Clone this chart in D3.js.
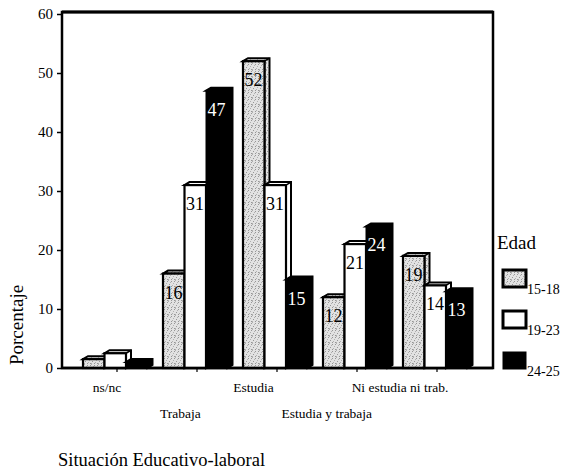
<!DOCTYPE html>
<html>
<head>
<meta charset="utf-8">
<script src="https://cdn.jsdelivr.net/npm/d3@7"></script>
<style>
  html, body { margin: 0; padding: 0; background: #fff; }
  svg { display: block; }
  text { font-family: "Liberation Serif", "Times New Roman", serif; }
</style>
</head>
<body>
<svg id="chart" width="566" height="469"></svg>
<script>
// Situación educativo-laboral por grupo de edad (%)
const categories = ["ns/nc", "Trabaja", "Estudia", "Estudia y trabaja", "Ni estudia ni trab."];
const ageGroups = ["15-18", "19-23", "24-25"];
const values1518 = [1.5, 16, 52, 12, 19];
const values1923 = [2.5, 31, 31, 21, 14];
const values2425 = [1, 47, 15, 24, 13];
const yTicks = [0, 10, 20, 30, 40, 50, 60];
const showLabel = [false, true, true, true, true];

const seriesValues = [values1518, values1923, values2425];

const svg = d3.select("#chart");

// stippled grey fill for the 15-18 group
const defs = svg.append("defs");
const pat = defs.append("pattern")
  .attr("id", "stipple").attr("patternUnits", "userSpaceOnUse")
  .attr("width", 7).attr("height", 7);
pat.append("rect").attr("width", 7).attr("height", 7).attr("fill", "#e2e2e2");
[[0,0],[3,1],[5,3],[1,4],[4,5],[6,6],[2,2],[6,1],[0,6],[3,6]].forEach(([px, py], k) =>
  pat.append("rect").attr("x", px).attr("y", py).attr("width", 1).attr("height", 1)
    .attr("fill", k % 2 ? "#969696" : "#b0b0b0"));

const fills = ["url(#stipple)", "#fff", "#000"];
const textFills = ["#000", "#000", "#fff"];

const plot = { left: 62, top: 12, right: 493, bottom: 368 };

const y = d3.scaleLinear().domain([0, 60]).range([368, 14]);
const xGroup = d3.scaleBand().domain(categories).range([83, 483]).padding(0);
const xSub = d3.scaleBand().domain(ageGroups).range([0, 64.5]).padding(0);
const xLabel = d3.scalePoint().domain(categories).range([107, 400]);

// frame
svg.append("rect")
  .attr("x", plot.left).attr("y", plot.top)
  .attr("width", plot.right - plot.left).attr("height", plot.bottom - plot.top)
  .attr("fill", "none").attr("stroke", "#000").attr("stroke-width", 2.5);
svg.append("line")
  .attr("x1", plot.left).attr("x2", plot.right).attr("y1", plot.top).attr("y2", plot.top)
  .attr("stroke", "#000").attr("stroke-width", 3);

// y axis
const yAxis = svg.append("g")
  .attr("transform", `translate(${plot.left},0)`)
  .call(d3.axisLeft(y).tickValues(yTicks).tickSize(5).tickPadding(4).tickFormat(d3.format("d")));
yAxis.select(".domain").remove();
yAxis.selectAll("line").attr("stroke", "#000").attr("stroke-width", 1.5);
yAxis.selectAll("text").style("font-size", "15px").style("fill", "#000");

// small ticks under the category axis
svg.append("g").selectAll("line")
  .data(categories).join("line")
  .attr("x1", d => xGroup(d) + 34).attr("x2", d => xGroup(d) + 34)
  .attr("y1", plot.bottom).attr("y2", plot.bottom + 4)
  .attr("stroke", "#000").attr("stroke-width", 1.2);

// 3-D style bars
const dx = 5, dy = 3;
const barW = xSub.bandwidth();
const bars = svg.append("g");
categories.forEach((cat, ci) => {
  ageGroups.forEach((age, si) => {
    const v = seriesValues[si][ci];
    const x0 = xGroup(cat) + xSub(age);
    const yTop = y(v), yBase = y(0);
    const g = bars.append("g");
    // top and side faces
    g.append("path")
      .attr("d", `M${x0},${yTop} L${x0 + dx},${yTop - dy} L${x0 + barW + dx},${yTop - dy} L${x0 + barW + dx},${yBase - dy} L${x0 + barW},${yBase} L${x0 + barW},${yTop} Z`)
      .attr("fill", fills[si]).attr("stroke", "#000").attr("stroke-width", 2).attr("stroke-linejoin", "miter");
    g.append("line")
      .attr("x1", x0 + barW).attr("y1", yTop).attr("x2", x0 + barW + dx).attr("y2", yTop - dy)
      .attr("stroke", "#000").attr("stroke-width", 1.5);
    // front face
    g.append("rect")
      .attr("x", x0).attr("y", yTop).attr("width", barW).attr("height", yBase - yTop)
      .attr("fill", fills[si]).attr("stroke", "#000").attr("stroke-width", si === 2 ? 1 : 2.2);
    if (showLabel[ci]) {
      g.append("text")
        .attr("x", x0 + 1.5).attr("y", yTop + 25)
        .style("font-size", "18px")
        .style("fill", textFills[si])
        .text(d3.format("d")(v));
    }
  });
});

// baseline
svg.append("line")
  .attr("x1", plot.left).attr("x2", plot.right)
  .attr("y1", plot.bottom).attr("y2", plot.bottom)
  .attr("stroke", "#000").attr("stroke-width", 2.5);

// category labels on two staggered rows
svg.append("g").selectAll("text")
  .data(categories).join("text")
  .attr("x", d => xLabel(d))
  .attr("y", (d, i) => i % 2 === 0 ? 392 : 418)
  .attr("text-anchor", "middle")
  .style("font-size", "13.5px")
  .text(d => d);

// axis titles
svg.append("text")
  .attr("transform", "translate(23,325) rotate(-90)")
  .attr("text-anchor", "middle")
  .style("font-size", "19px")
  .text("Porcentaje");

svg.append("text")
  .attr("x", 58).attr("y", 466)
  .style("font-size", "18.5px")
  .text("Situación Educativo-laboral");

// legend
const legend = svg.append("g");
legend.append("text").attr("x", 497).attr("y", 249).style("font-size", "19px").text("Edad");
ageGroups.forEach((age, i) => {
  const ly = 270 + i * 41;
  legend.append("rect")
    .attr("x", 503).attr("y", ly).attr("width", 23).attr("height", 17)
    .attr("fill", fills[i]).attr("stroke", "#000").attr("stroke-width", i === 2 ? 1 : 3);
  legend.append("text")
    .attr("x", 527).attr("y", ly + 24)
    .style("font-size", "14px")
    .text(age);
});
</script>
</body>
</html>
